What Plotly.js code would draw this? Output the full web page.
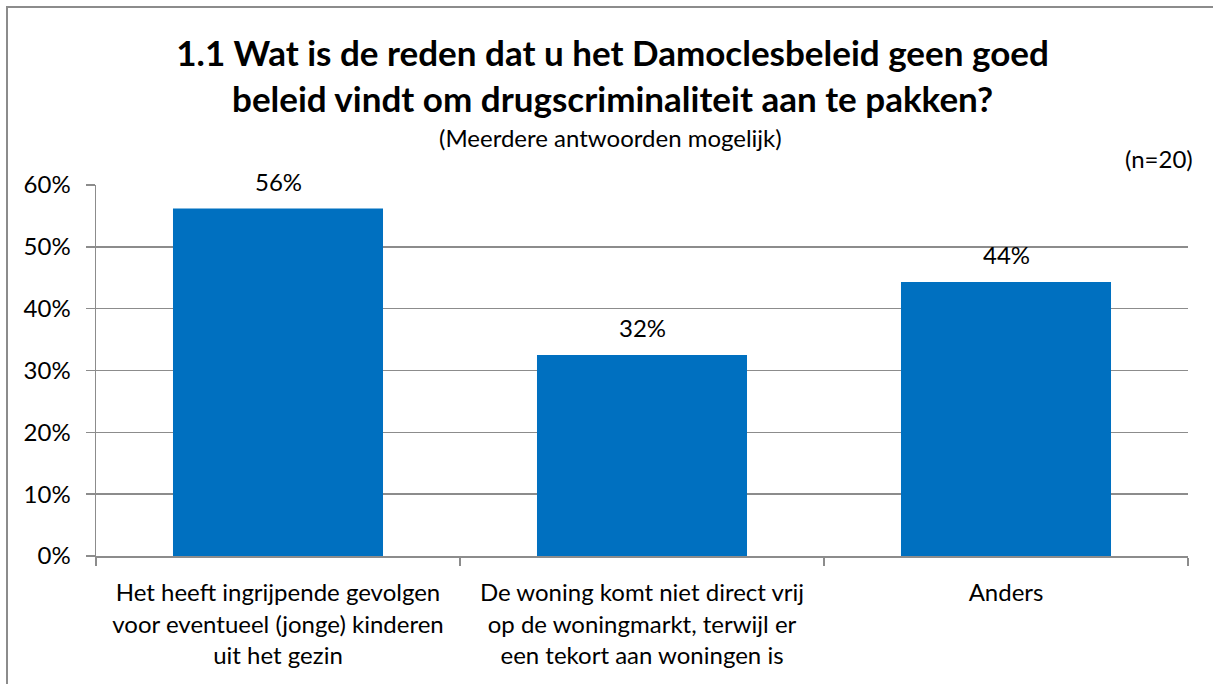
<!DOCTYPE html>
<html>
<head>
<meta charset="utf-8">
<script src="https://cdn.plot.ly/plotly-3.0.1.min.js"></script>
<style>
  html, body { margin: 0; padding: 0; background: #fff; overflow: hidden; }
  #wrap { position: relative; width: 1213px; height: 684px; }
  #frame { position: absolute; left: 6px; top: 6px; width: 1400px; height: 900px;
           border-left: 2px solid #8c8c8c; border-top: 2px solid #8c8c8c; box-sizing: border-box; }
  #chart { position: absolute; left: 0; top: 0; width: 1213px; height: 684px; }
</style>
</head>
<body>
<div id="wrap">
  <div id="frame"></div>
  <div id="chart"></div>
</div>
<script>
const categories = [
  "Het heeft ingrijpende gevolgen<br>voor eventueel (jonge) kinderen<br>uit het gezin",
  "De woning komt niet direct vrij<br>op de woningmarkt, terwijl er<br>een tekort aan woningen is",
  "Anders"
];
const values = [56.2, 32.5, 44.3];
const valueLabels = ["56%", "32%", "44%"];
const yTickVals = [0, 10, 20, 30, 40, 50, 60];
const yTickText = ["0%", "10%", "20%", "30%", "40%", "50%", "60%"];

const FONT = "Lato, 'Open Sans', sans-serif";
const GRID = "#8c8c8c";
const FS = 24;

const trace = {
  type: "bar",
  x: categories,
  y: values,
  marker: { color: "#0070C0" },
  hoverinfo: "skip"
};

const annotations = categories.map((c, i) => ({
  x: c, y: values[i], xref: "x", yref: "y",
  text: valueLabels[i], showarrow: false,
  yanchor: "bottom", yshift: 11,
  font: { family: FONT, size: FS, color: "#000" }
}));
annotations.push({
  xref: "paper", yref: "paper", x: 0.4716, y: 1.127,
  xanchor: "center", yanchor: "middle",
  text: "(Meerdere antwoorden mogelijk)", showarrow: false,
  font: { family: FONT, size: FS, color: "#000" }
});
annotations.push({
  xref: "paper", yref: "paper", x: 1.0064, y: 1.072,
  xanchor: "right", yanchor: "middle",
  text: "(n=20)", showarrow: false,
  font: { family: FONT, size: FS, color: "#000" }
});

const layout = {
  width: 1213, height: 684,
  paper_bgcolor: "rgba(0,0,0,0)",
  plot_bgcolor: "rgba(0,0,0,0)",
  margin: { l: 96, r: 25, t: 185, b: 128 },
  title: {
    text: "<b>1.1 Wat is de reden dat u het Damoclesbeleid geen goed<br>beleid vindt om drugscriminaliteit aan te pakken?</b>",
    xref: "container", x: 0.505, xanchor: "center",
    yref: "container", y: 1 - 66 / 684, yanchor: "top",
    font: { family: FONT, size: 35, color: "#000" }
  },
  showlegend: false,
  bargap: 0.423,
  xaxis: {
    type: "category",
    showline: true, linecolor: GRID, linewidth: 1.5,
    ticks: "outside", tickson: "boundaries", ticklen: 8, tickcolor: GRID, tickwidth: 1.5,
    ticklabelstandoff: 15,
    tickfont: { family: FONT, size: FS, color: "#000" },
    showgrid: false, fixedrange: true
  },
  yaxis: {
    range: [0, 60],
    tickvals: yTickVals, ticktext: yTickText,
    showline: true, linecolor: GRID, linewidth: 1.5,
    ticks: "outside", ticklen: 9, tickcolor: GRID, tickwidth: 1.5,
    ticklabelstandoff: 10,
    showgrid: true, gridcolor: GRID, gridwidth: 1.5,
    zeroline: false,
    tickfont: { family: FONT, size: FS, color: "#000" },
    fixedrange: true
  },
  annotations: annotations
};

Plotly.newPlot("chart", [trace], layout, { displayModeBar: false, staticPlot: true });
</script>
</body>
</html>
